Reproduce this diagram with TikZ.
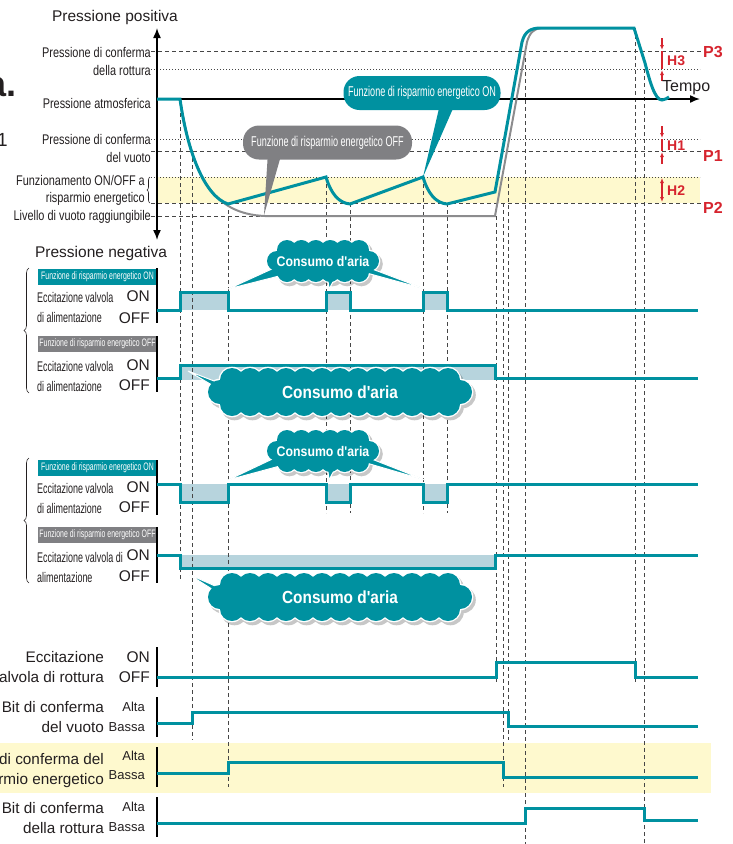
\documentclass[tikz,border=0pt]{standalone}
\usepackage{fontspec}
\setmainfont{Liberation Sans}
\newfontfamily\condfont[FakeStretch=0.78]{Liberation Sans}
\newfontfamily\narrowfont[FakeStretch=0.64]{Liberation Sans}
\newfontfamily\cloudfont[FakeStretch=0.88]{Liberation Sans}
\usepackage{tikz}
\usetikzlibrary{decorations.pathreplacing,arrows.meta,calc}

\definecolor{tealline}{RGB}{0,145,160}
\definecolor{pulsefill}{RGB}{183,212,221}
\definecolor{bandyellow}{RGB}{254,249,206}
\definecolor{headgray}{RGB}{128,128,131}
\definecolor{curvegray}{RGB}{140,140,142}
\definecolor{markred}{RGB}{214,36,46}
\definecolor{guidegray}{RGB}{70,70,70}
\definecolor{textdark}{RGB}{35,31,32}

% one layer of a puffed cloud: options, half width, half height, puff radius, last puff index, grow
\newcommand{\cloudlayer}[6]{%
  \path[#1]
    \foreach \k in {0,...,#5} {
      ({-(#2-2*#4)+2*(#2-2*#4)*\k/#5}, {-(#3-#4)}) circle[radius=#4+#6]
      ({-(#2-2*#4)+2*(#2-2*#4)*\k/#5}, {#3-#4}) circle[radius=#4+#6]
    }
    ({-(#2-#4)}, 0) circle[radius=#4+#6]
    ({#2-#4}, 0) circle[radius=#4+#6]
    ({#2-1.5*#4}, {-(#3-#4)}) rectangle ({-(#2-1.5*#4)}, {#3-#4});
}
% cloud with shadow and white rim: centre, half width, half height, puff radius, last index, tails
\newcommand{\aircloud}[6]{%
  \begin{scope}[shift={(#1)}]
    \cloudlayer{fill=black, opacity=0.22, shift={(2.5,3)}}{#2}{#3}{#4}{#5}{1.3}
    \cloudlayer{fill=white}{#2}{#3}{#4}{#5}{1.3}
  \end{scope}
  #6
  \begin{scope}[shift={(#1)}]
    \cloudlayer{fill=tealline}{#2}{#3}{#4}{#5}{0}
  \end{scope}}

\begin{document}
\begin{tikzpicture}[
    x=1pt, y=-1pt,
    every node/.style={inner sep=0pt, text=textdark},
    axis/.style={line width=1.5pt, black},
    guide/.style={guidegray, line width=0.9pt, dash pattern=on 4pt off 3pt},
    dots/.style={guidegray, line width=0.9pt, dash pattern=on 1pt off 2pt},
    signal/.style={tealline, line width=3pt},
    bar/.style={line width=2pt, black},
    leftlabel/.style={anchor=east, align=right, font=\condfont\fontsize{14}{18}\selectfont},
    valvelabel/.style={anchor=west, align=left, font=\narrowfont\fontsize{14}{20}\selectfont},
    bitlabel/.style={anchor=east, align=right, font=\fontsize{15.3}{20}\selectfont},
    onoff/.style={anchor=east, font=\fontsize{15.5}{15.5}\selectfont},
    highlow/.style={anchor=east, font=\fontsize{13}{13}\selectfont},
    headbox/.style={minimum width=119pt, minimum height=16pt, text=white, font=\narrowfont\fontsize{10.8}{11}\selectfont},
    pill/.style={rounded corners=16pt, minimum height=34pt, text=white, font=\narrowfont\fontsize{14.2}{14}\selectfont},
    bigcloudtext/.style={text=white, font=\cloudfont\bfseries\fontsize{17.5}{18}\selectfont},
    smallcloudtext/.style={text=white, font=\cloudfont\bfseries\fontsize{14}{14}\selectfont},
    tail/.style={fill=tealline, draw=white, line width=1pt},
    redtip/.style={markred, line width=1.2pt, -{Latex[length=5pt,width=4pt]}},
    pmark/.style={anchor=west, text=markred, font=\bfseries\fontsize{16}{16}\selectfont},
    hmark/.style={anchor=west, text=markred, font=\bfseries\fontsize{14}{14}\selectfont}
  ]
  \useasboundingbox (0,0) rectangle (732,844);

  % bands
  \fill[bandyellow] (157,177) rectangle (700,203);
  \fill[bandyellow] (0,743) rectangle (711,793);
  \foreach \a/\b in {180/228, 326/350, 423/447} {
    \fill[pulsefill] (\a,292) rectangle (\b,310);
    \fill[pulsefill] (\a,484) rectangle (\b,502);
  }
  \fill[pulsefill] (180,365) rectangle (495,380);
  \fill[pulsefill] (180,555) rectangle (495,568);

  % pressure levels
  \draw[guide] (151,51) -- (701,51);
  \draw[dots] (151,69) -- (700,69);
  \draw[dots] (151,139) -- (700,139);
  \draw[guide] (151,151) -- (701,151);
  \draw[dots] (151,177) -- (700,177);
  \draw[guide] (151,203) -- (701,203);
  \draw[guide] (151,216) -- (495,216);

  % time marks
  \foreach \x/\ya/\yb in {180/99/580, 192/151/740, 228/203/787, 326/177/513, 350/203/513,
      423/177/513, 447/203/513, 496/216/682, 503/203/787, 508/177/740, 525/51/844,
      635/28/682, 644/69/844}
    \draw[guide] (\x,\ya) -- (\x,\yb);

  % axes
  \draw[axis, {Latex[length=10pt,width=8pt]}-{Latex[length=10pt,width=8pt]}] (157,240) -- (157,28);
  \draw[axis, -{Latex[length=10pt,width=8pt]}] (157,99) -- (700,99);

  % pressure curves
  \draw[curvegray, line width=2pt] (180,99) .. controls (192,175) and (212,214) .. (265,216)
    -- (495,216) -- (527,42) .. controls (530,32) and (534,29) .. (541,28);
  \draw[signal] (157,99) -- (180,99) .. controls (187,150) and (204,196) .. (228,204)
    -- (326,177) .. controls (331,194) and (339,203) .. (350,204)
    -- (423,177) .. controls (428,194) and (436,203) .. (447,204)
    -- (495,192) -- (522,42) .. controls (525,31) and (531,28) .. (541,28)
    -- (634,28) -- (645,63) .. controls (650,82) and (655,100) .. (662,100)
    .. controls (665,100) and (667,98) .. (669,97);

  % callouts on the curves
  \fill[headgray] (268,152) -- (264,215) -- (282,152) -- cycle;
  \node[pill, fill=headgray, minimum width=169pt] (pilloff) at (327.5,142.5) {Funzione di risparmio energetico OFF};
  \fill[tealline] (440,104) -- (423,177) -- (455,104) -- cycle;
  \node[pill, fill=tealline, minimum width=157pt] (pillon) at (422,93) {Funzione di risparmio energetico ON};

  % marks P / H
  \node[pmark] (pthree) at (703,52) {P3};
  \node[pmark] (pone) at (703,156) {P1};
  \node[pmark] (ptwo) at (703,208) {P2};
  \draw[redtip] (662,38) -- (662,50);
  \draw[markred, line width=1.2pt] (662,51) -- (662,69);
  \draw[redtip] (662,81) -- (662,70);
  \draw[redtip] (662,126) -- (662,138);
  \draw[markred, line width=1.2pt] (662,139) -- (662,151);
  \draw[redtip] (662,164) -- (662,152);
  \draw[markred, line width=1.2pt, {Latex[length=5pt,width=4pt]}-{Latex[length=5pt,width=4pt]}] (662,178) -- (662,202);
  \node[hmark] (hthree) at (667,61) {H3};
  \node[hmark] (hone) at (667,146) {H1};
  \node[hmark] (htwo) at (667,191) {H2};
  \node[anchor=west, font=\fontsize{16}{16}\selectfont] (tempo) at (662,88) {Tempo};

  % pressure labels
  \node[font=\fontsize{15.5}{15.5}\selectfont] (pospress) at (115,17) {Pressione positiva};
  \node[font=\fontsize{15.5}{15.5}\selectfont] (negpress) at (101,253) {Pressione negativa};
  \node[leftlabel] (lbreak) at (151,61) {Pressione di conferma\\della rottura};
  \node[leftlabel] (latm) at (151,103) {Pressione atmosferica};
  \node[leftlabel] (lvac) at (151,148) {Pressione di conferma\\del vuoto};
  \node[leftlabel, font=\condfont\fontsize{14}{17}\selectfont] (lsave) at (145,190) {Funzionamento ON/OFF a\\risparmio energetico};
  \node[leftlabel] (lreach) at (151,217) {Livello di vuoto raggiungibile};
  \draw[textdark, line width=0.6pt, decorate, decoration={brace, amplitude=3pt}] (150,203) -- (150,177);
  \node[anchor=east, font=\bfseries\fontsize{36}{36}\selectfont] (fraga) at (16.5,87) {a.};
  \node[anchor=east, font=\fontsize{19}{19}\selectfont] (fragone) at (8,140) {1};

  % supply valve, first group
  \draw[textdark, line width=0.6pt, decorate, decoration={brace, amplitude=5pt}] (29,393) -- (29,268);
  \node[headbox, fill=tealline] (headA) at (97.5,277) {Funzione di risparmio energetico ON};
  \node[valvelabel] (valveA) at (37,307) {Eccitazione valvola\\di alimentazione};
  \node[onoff] (onA) at (150,296) {ON};
  \node[onoff] (offA) at (150,318) {OFF};
  \draw[bar] (157,268) -- (157,323);
  \draw[signal] (157,310) -- (180,310) -- (180,292) -- (228,292) -- (228,310) -- (326,310) -- (326,292)
    -- (350,292) -- (350,310) -- (423,310) -- (423,292) -- (447,292) -- (447,310) -- (698,310);
  \node[headbox, fill=headgray] (headB) at (97.5,344) {Funzione di risparmio energetico OFF};
  \node[valvelabel] (valveB) at (37,376) {Eccitazione valvola\\di alimentazione};
  \node[onoff] (onB) at (150,365) {ON};
  \node[onoff] (offB) at (150,385) {OFF};
  \draw[bar] (157,336) -- (157,392);
  \draw[signal] (157,378) -- (180,378) -- (180,365) -- (495,365) -- (495,378) -- (698,378);

  % supply valve, second group
  \draw[textdark, line width=0.6pt, decorate, decoration={brace, amplitude=5pt}] (29,583) -- (29,458);
  \node[headbox, fill=tealline] (headC) at (97.5,468) {Funzione di risparmio energetico ON};
  \node[valvelabel] (valveC) at (37,498) {Eccitazione valvola\\di alimentazione};
  \node[onoff] (onC) at (150,487) {ON};
  \node[onoff] (offC) at (150,507) {OFF};
  \draw[bar] (157,460) -- (157,515);
  \draw[signal] (157,484) -- (180,484) -- (180,502) -- (228,502) -- (228,484) -- (326,484) -- (326,502)
    -- (350,502) -- (350,484) -- (423,484) -- (423,502) -- (447,502) -- (447,484) -- (698,484);
  \node[headbox, fill=headgray] (headD) at (97.5,535) {Funzione di risparmio energetico OFF};
  \node[valvelabel] (valveD) at (37,567) {Eccitazione valvola di\\alimentazione};
  \node[onoff] (onD) at (150,555) {ON};
  \node[onoff] (offD) at (150,576) {OFF};
  \draw[bar] (157,527) -- (157,583);
  \draw[signal] (157,555) -- (180,555) -- (180,568) -- (495,568) -- (495,555) -- (698,555);

  % air consumption clouds
  \coordinate (airA) at (323,261);
  \aircloud{airA}{56}{21}{10}{5}{%
    \filldraw[tail] ($(airA)+(-38,2)$) -- (228,289) -- ($(airA)+(-32,12)$) -- cycle;
    \filldraw[tail] ($(airA)+(4,12)$) -- (329,289) -- ($(airA)+(15,12)$) -- cycle;
    \filldraw[tail] ($(airA)+(36,3)$) -- (425,289) -- ($(airA)+(40,11)$) -- cycle;}
  \node[smallcloudtext] (cloudA) at (airA) {Consumo d'aria};
  \coordinate (airB) at (340,392);
  \aircloud{airB}{132}{24}{12}{12}{%
    \filldraw[tail] ($(airB)+(-118,-8)$) -- (188,371) -- ($(airB)+(-106,6)$) -- cycle;}
  \node[bigcloudtext] (cloudB) at (airB) {Consumo d'aria};
  \coordinate (airC) at (323,451);
  \aircloud{airC}{56}{21}{10}{5}{%
    \filldraw[tail] ($(airC)+(-38,2)$) -- (228,480) -- ($(airC)+(-32,12)$) -- cycle;
    \filldraw[tail] ($(airC)+(4,12)$) -- (329,480) -- ($(airC)+(15,12)$) -- cycle;
    \filldraw[tail] ($(airC)+(36,3)$) -- (425,480) -- ($(airC)+(40,11)$) -- cycle;}
  \node[smallcloudtext] (cloudC) at (airC) {Consumo d'aria};
  \coordinate (airD) at (340,597);
  \aircloud{airD}{132}{24}{12}{12}{%
    \filldraw[tail] ($(airD)+(-118,-8)$) -- (188,574) -- ($(airD)+(-106,6)$) -- cycle;}
  \node[bigcloudtext] (cloudD) at (airD) {Consumo d'aria};

  % break valve and confirmation bits
  \node[bitlabel] (lbrkvalve) at (104,667) {Eccitazione\\valvola di rottura};
  \node[onoff] (onE) at (150,657) {ON};
  \node[onoff] (offE) at (150,677) {OFF};
  \draw[bar] (157,647) -- (157,687);
  \draw[signal] (157,677) -- (496,677) -- (496,662) -- (635,662) -- (635,677) -- (698,677);

  \node[bitlabel] (lvacbit) at (104,717) {Bit di conferma\\del vuoto};
  \node[highlow] (altaF) at (145,707) {Alta};
  \node[highlow] (bassaF) at (145,727) {Bassa};
  \draw[bar] (157,697) -- (157,737);
  \draw[signal] (157,723) -- (192,723) -- (192,712) -- (508,712) -- (508,726) -- (698,726);

  \node[bitlabel] (lsavebit) at (104,771) {Bit di conferma del\\risparmio energetico};
  \node[highlow] (altaG) at (145,756) {Alta};
  \node[highlow] (bassaG) at (145,775) {Bassa};
  \draw[bar] (157,747) -- (157,787);
  \draw[signal] (157,773) -- (228,773) -- (228,762) -- (503,762) -- (503,777) -- (698,777);

  \node[bitlabel] (lbrkbit) at (104,818) {Bit di conferma\\della rottura};
  \node[highlow] (altaH) at (145,807) {Alta};
  \node[highlow] (bassaH) at (145,827) {Bassa};
  \draw[bar] (157,797) -- (157,837);
  \draw[signal] (157,823) -- (525,823) -- (525,808) -- (644,808) -- (644,820) -- (698,820);
\end{tikzpicture}
\end{document}
